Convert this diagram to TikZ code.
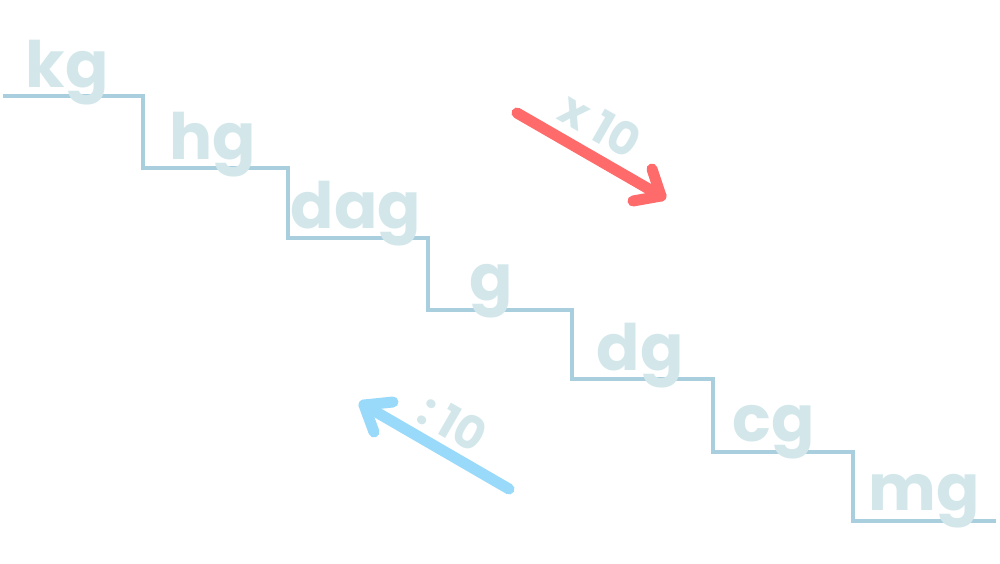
\documentclass[tikz,border=0pt]{standalone}
\usepackage{fontspec}
\setmainfont{Poppins}
\definecolor{unitc}{HTML}{D3E7EB}
\definecolor{stairc}{HTML}{A9CFDF}
\definecolor{redc}{HTML}{FF6B6B}
\definecolor{bluec}{HTML}{99D9F9}
\begin{document}
\begin{tikzpicture}[x=1pt,y=-1pt,
  unit/.style={text=unitc,font=\bfseries\fontsize{64}{64}\selectfont,anchor=base,inner sep=0pt},
  factor/.style={text=unitc,font=\bfseries\fontsize{46}{46}\selectfont,rotate=-30,inner sep=0pt},
  stair/.style={draw=stairc,line width=3.2pt},
  bigarrow/.style={line width=11pt,line cap=round,line join=round}]
\useasboundingbox (0,0) rectangle (1000,564);
\coordinate (s0) at (3,96);
\coordinate (s1) at (143,96);
\coordinate (s2) at (143,168);
\coordinate (s3) at (288,168);
\coordinate (s4) at (288,238);
\coordinate (s5) at (428,238);
\coordinate (s6) at (428,310);
\coordinate (s7) at (572,310);
\coordinate (s8) at (572,379);
\coordinate (s9) at (713,379);
\coordinate (s10) at (713,452);
\coordinate (s11) at (853,452);
\coordinate (s12) at (853,521);
\coordinate (s13) at (996,521);
\draw[stair] (s0) -- (s1) -- (s2) -- (s3) -- (s4) -- (s5) -- (s6) -- (s7) -- (s8) -- (s9) -- (s10) -- (s11) -- (s12) -- (s13);
\node[unit] (kg) at (67,88) {kg};
\node[unit] (hg) at (213,160) {hg};
\node[unit] (dag) at (356,228) {dag};
\node[unit] (g) at (491,300) {g};
\node[unit] (dg) at (640,370) {dg};
\node[unit] (cg) at (774,441) {cg};
\node[unit] (mg) at (924,510) {mg};
% red arrow
\coordinate (rs) at (517,113);
\coordinate (rt) at (661,196);
\coordinate (ra) at (652,169);
\coordinate (rb) at (633,201);
\draw[bigarrow,draw=redc] (rs) -- (rt);
\draw[bigarrow,draw=redc] (ra) -- (rt) -- (rb);
\node[factor] (times) at (601,125) {x\hspace{10pt}10};
% blue arrow
\coordinate (bs) at (509,489);
\coordinate (bt) at (364,405);
\coordinate (ba) at (393,402);
\coordinate (bb) at (374,432);
\draw[bigarrow,draw=bluec] (bs) -- (bt);
\draw[bigarrow,draw=bluec] (ba) -- (bt) -- (bb);
\node[factor] (div) at (453,423) {:\hspace{8pt}10};
\end{tikzpicture}
\end{document}
